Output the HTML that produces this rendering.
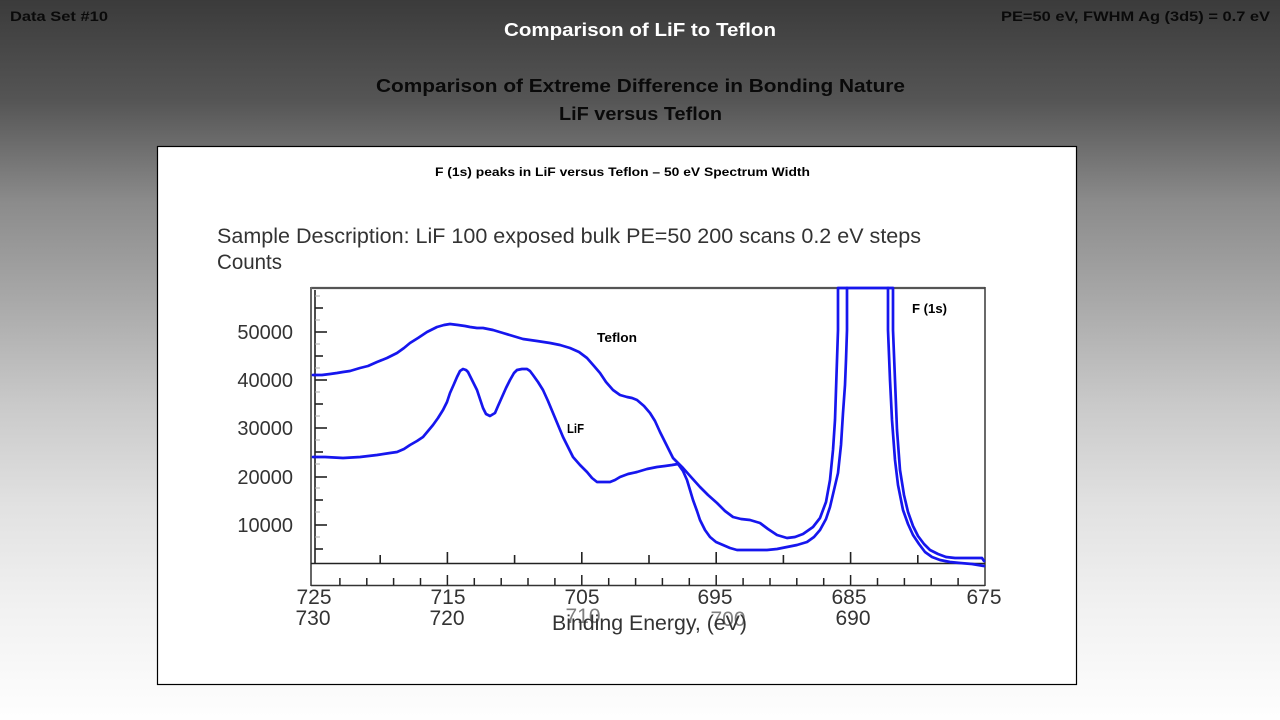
<!DOCTYPE html>
<html><head><meta charset="utf-8"><style>
html,body{margin:0;padding:0;width:1280px;height:720px;overflow:hidden}
svg{display:block}
</style></head><body>
<svg width="1280" height="720" viewBox="0 0 1280 720" xmlns="http://www.w3.org/2000/svg">
<defs>
<linearGradient id="bg" x1="0" y1="0" x2="0" y2="1">
<stop offset="0" stop-color="#3b3b3b"/>
<stop offset="0.14" stop-color="#555555"/>
<stop offset="0.28" stop-color="#8b8b8b"/>
<stop offset="0.42" stop-color="#a9a9a9"/>
<stop offset="0.56" stop-color="#c9c9c9"/>
<stop offset="0.70" stop-color="#e1e1e1"/>
<stop offset="0.84" stop-color="#f1f1f1"/>
<stop offset="1" stop-color="#fefefe"/>
</linearGradient>
</defs>
<rect x="0" y="0" width="1280" height="720" fill="url(#bg)"/>

<g font-family="Liberation Sans, sans-serif" font-weight="bold">
<text x="10" y="21" font-size="14" fill="#0a0a0a" textLength="98" lengthAdjust="spacingAndGlyphs">Data Set #10</text>
<text x="504" y="36" font-size="18" fill="#ffffff" textLength="272" lengthAdjust="spacingAndGlyphs">Comparison of LiF to Teflon</text>
<text x="1001" y="21" font-size="14" fill="#0a0a0a" textLength="269" lengthAdjust="spacingAndGlyphs">PE=50 eV, FWHM Ag (3d5) = 0.7 eV</text>
<text x="376" y="92" font-size="18" fill="#0a0a0a" textLength="529" lengthAdjust="spacingAndGlyphs">Comparison of Extreme Difference in Bonding Nature</text>
<text x="559" y="120" font-size="18" fill="#0a0a0a" textLength="163" lengthAdjust="spacingAndGlyphs">LiF versus Teflon</text>
</g>

<rect x="157.5" y="146.5" width="919" height="538" fill="#ffffff" stroke="#000" stroke-width="1.2"/>

<g font-family="Liberation Sans, sans-serif" font-weight="bold" fill="#000">
<text x="435" y="176" font-size="12" textLength="375" lengthAdjust="spacingAndGlyphs">F (1s) peaks in LiF versus Teflon – 50 eV Spectrum Width</text>
<text x="597" y="342" font-size="13" textLength="40" lengthAdjust="spacingAndGlyphs">Teflon</text>
<text x="567" y="433" font-size="13" textLength="17" lengthAdjust="spacingAndGlyphs">LiF</text>
<text x="912" y="313" font-size="13" textLength="35" lengthAdjust="spacingAndGlyphs">F (1s)</text>
</g>

<g font-family="Liberation Sans, sans-serif" fill="#333">
<text x="217" y="243" font-size="21" textLength="704" lengthAdjust="spacingAndGlyphs">Sample Description:  LiF 100 exposed bulk PE=50 200 scans 0.2 eV steps</text>
<text x="217" y="269" font-size="21" textLength="65" lengthAdjust="spacingAndGlyphs">Counts</text>
</g>

<!-- frame -->
<g fill="none">
<line x1="311" y1="288" x2="985" y2="288" stroke="#555" stroke-width="2.2"/>
<line x1="311" y1="287" x2="311" y2="586" stroke="#666" stroke-width="2"/>
<line x1="985" y1="287" x2="985" y2="586" stroke="#444" stroke-width="1.6"/>
<line x1="315" y1="290" x2="315" y2="564" stroke="#222" stroke-width="1.6"/>
<line x1="311" y1="563.5" x2="985" y2="563.5" stroke="#222" stroke-width="1.6"/>
<line x1="311" y1="585.5" x2="985" y2="585.5" stroke="#333" stroke-width="1.6"/>
</g>

<!-- y ticks -->
<g stroke="#222" stroke-width="1.6">
<line x1="315" y1="332" x2="327" y2="332"/>
<line x1="315" y1="380" x2="327" y2="380"/>
<line x1="315" y1="428" x2="327" y2="428"/>
<line x1="315" y1="477" x2="327" y2="477"/>
<line x1="315" y1="525" x2="327" y2="525"/>
<line x1="315" y1="308" x2="323" y2="308"/>
<line x1="315" y1="356" x2="323" y2="356"/>
<line x1="315" y1="404" x2="323" y2="404"/>
<line x1="315" y1="452" x2="323" y2="452"/>
<line x1="315" y1="500" x2="323" y2="500"/>
<line x1="315" y1="549" x2="323" y2="549"/>
</g>
<g stroke="#aaa" stroke-width="1">
<line x1="315" y1="296" x2="320" y2="296"/>
<line x1="315" y1="320" x2="320" y2="320"/>
<line x1="315" y1="344" x2="320" y2="344"/>
<line x1="315" y1="368" x2="320" y2="368"/>
<line x1="315" y1="392" x2="320" y2="392"/>
<line x1="315" y1="416" x2="320" y2="416"/>
<line x1="315" y1="440" x2="320" y2="440"/>
<line x1="315" y1="464" x2="320" y2="464"/>
<line x1="315" y1="488" x2="320" y2="488"/>
<line x1="315" y1="512" x2="320" y2="512"/>
<line x1="315" y1="537" x2="320" y2="537"/>
</g>

<!-- upper scale ticks (y=563) -->
<g stroke="#222" stroke-width="1.6">
<line x1="447.4" y1="563" x2="447.4" y2="552"/>
<line x1="581.8" y1="563" x2="581.8" y2="552"/>
<line x1="716.2" y1="563" x2="716.2" y2="552"/>
<line x1="850.6" y1="563" x2="850.6" y2="552"/>
<line x1="380.2" y1="563" x2="380.2" y2="555"/>
<line x1="514.6" y1="563" x2="514.6" y2="555"/>
<line x1="649" y1="563" x2="649" y2="555"/>
<line x1="783.4" y1="563" x2="783.4" y2="555"/>
<line x1="917.8" y1="563" x2="917.8" y2="555"/>
</g>

<!-- lower scale ticks (y=585) -->
<g stroke="#222" stroke-width="1.5">
<line x1="447.4" y1="585" x2="447.4" y2="575"/>
<line x1="581.8" y1="585" x2="581.8" y2="575"/>
<line x1="716.2" y1="585" x2="716.2" y2="575"/>
<line x1="850.6" y1="585" x2="850.6" y2="575"/>
<line x1="339.9" y1="585" x2="339.9" y2="578"/>
<line x1="366.8" y1="585" x2="366.8" y2="578"/>
<line x1="393.6" y1="585" x2="393.6" y2="578"/>
<line x1="420.5" y1="585" x2="420.5" y2="578"/>
<line x1="474.3" y1="585" x2="474.3" y2="578"/>
<line x1="501.2" y1="585" x2="501.2" y2="578"/>
<line x1="528" y1="585" x2="528" y2="578"/>
<line x1="554.9" y1="585" x2="554.9" y2="578"/>
<line x1="608.7" y1="585" x2="608.7" y2="578"/>
<line x1="635.6" y1="585" x2="635.6" y2="578"/>
<line x1="662.4" y1="585" x2="662.4" y2="578"/>
<line x1="689.3" y1="585" x2="689.3" y2="578"/>
<line x1="743.1" y1="585" x2="743.1" y2="578"/>
<line x1="770" y1="585" x2="770" y2="578"/>
<line x1="796.8" y1="585" x2="796.8" y2="578"/>
<line x1="823.7" y1="585" x2="823.7" y2="578"/>
<line x1="877.5" y1="585" x2="877.5" y2="578"/>
<line x1="904.4" y1="585" x2="904.4" y2="578"/>
<line x1="931.2" y1="585" x2="931.2" y2="578"/>
<line x1="958.1" y1="585" x2="958.1" y2="578"/>
</g>

<!-- axis labels -->
<g font-family="Liberation Sans, sans-serif" font-size="20" fill="#333" text-anchor="end">
<text x="293" y="339">50000</text>
<text x="293" y="387">40000</text>
<text x="293" y="435">30000</text>
<text x="293" y="484">20000</text>
<text x="293" y="532">10000</text>
</g>
<g font-family="Liberation Sans, sans-serif" font-size="21" fill="#333" text-anchor="middle">
<text x="314" y="604">725</text>
<text x="448" y="604">715</text>
<text x="582" y="604">705</text>
<text x="715" y="604">695</text>
<text x="849" y="604">685</text>
<text x="984" y="604">675</text>
<text x="313" y="625">730</text>
<text x="447" y="625">720</text>
<text x="853" y="625">690</text>
</g>
<g font-family="Liberation Sans, sans-serif" font-size="21" fill="#555" text-anchor="middle" opacity="0.75">
<text x="583" y="623">710</text>
<text x="728" y="626">700</text>
</g>
<text x="552" y="630" font-family="Liberation Sans, sans-serif" font-size="21" fill="#333" textLength="195" lengthAdjust="spacingAndGlyphs">Binding Energy, (eV)</text>

<!-- curves -->
<g fill="none" stroke="#1616ee" stroke-width="2.7" stroke-linejoin="round" stroke-linecap="round">
<polyline points="313,375 322,375 330,374 337,373 343,372 350,371 360,368 368,366 377,362 387,358 397,353 404,348 410,343 418,338 427,332 437,327 444,325 450,324 458,325 465,326 470,327 477,328 483,328 493,330 503,333 513,336 523,339 537,341 550,343 560,345 570,348 579,352 587,358 594,366 600,373 606,382 613,390 620,395 627,397 632,398 637,400 644,406 650,413 655,421 660,432 667,446 673,458 683,468 691,477 700,487 708,495 717,503 725,511 733,517 741,519 750,520 760,523 768,529 777,535 787,538 795,537 803,534 813,527 820,518 826,502 830,480 833,450 835,420 836,390 837,360 838,330 838,288 893,288 893,330 895,380 897,430 900,470 904,495 908,512 913,526 918,536 924,544 930,550 938,554 946,557 955,558 965,558 975,558 982,558 984,561"/>
<polyline points="313,457 325,457 343,458 360,457 377,455 390,453 397,452 404,449 410,445 417,441 423,437 428,431 433,425 438,418 443,410 447,402 450,393 454,384 457,377 460,371 463,369 466,370 468,372 472,380 477,390 480,399 483,408 486,414 490,416 495,413 498,406 502,397 506,388 510,380 514,373 517,370 522,369 527,369 530,371 533,375 538,382 543,390 548,401 553,413 558,425 563,437 568,447 573,457 580,465 587,472 592,478 597,482 603,482 610,482 615,480 620,477 628,474 637,472 647,469 657,467 665,466 672,465 678,464 683,471 687,480 690,490 693,500 697,511 700,520 705,530 710,537 716,542 723,545 730,548 737,550 752,550 767,550 777,549 787,547 797,545 807,542 814,537 820,530 826,519 830,507 834,490 838,473 841,445 843,413 845,385 846,360 847,330 847,288"/>
<polyline points="888,288 888,330 890,380 892,420 895,460 898,485 903,510 908,524 913,535 919,544 925,552 932,557 940,560 950,562 960,563 972,564 984,566"/>
</g>
</svg>
</body></html>
